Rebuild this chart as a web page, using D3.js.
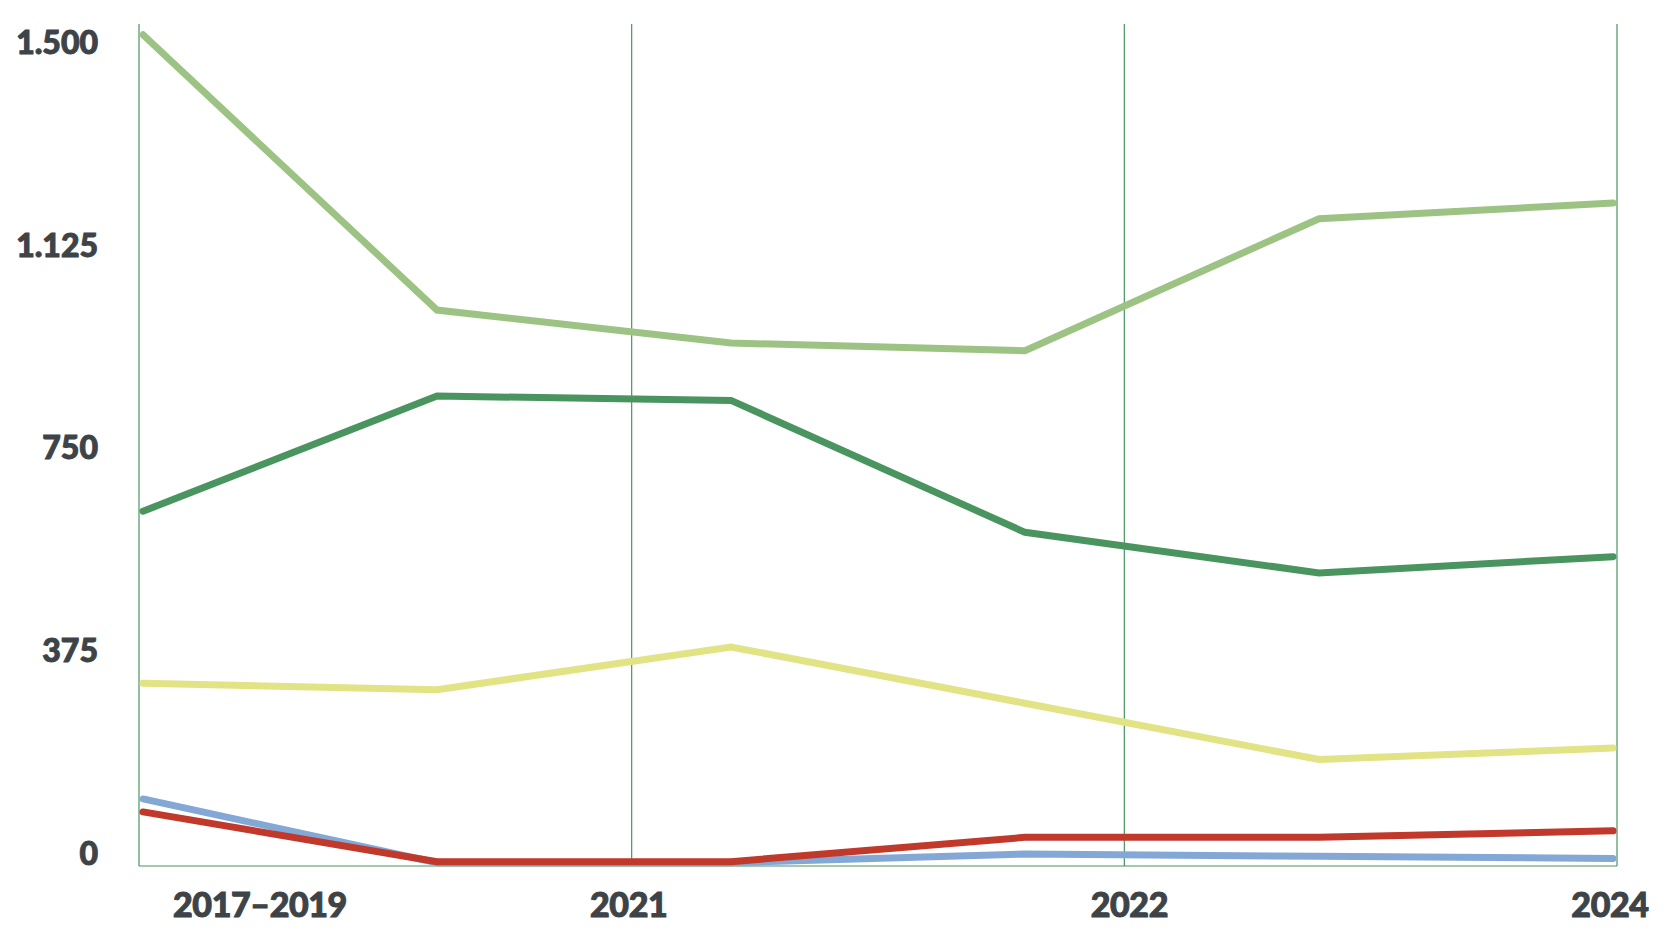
<!DOCTYPE html>
<html>
<head>
<meta charset="utf-8">
<script src="https://cdn.jsdelivr.net/npm/d3@7"></script>
<style>
  html, body { margin: 0; padding: 0; background: #ffffff; }
  svg text { font-family: "Lato", "Open Sans", sans-serif; font-weight: 900; fill: #3d4347; stroke: #3d4347; stroke-width: 1; paint-order: stroke; }
</style>
</head>
<body>
<svg id="chart" width="1666" height="942"></svg>
<script>
// ---- data ----
const periods = ["P1", "P2", "P3", "P4", "P5", "P6"];
const seriesLightGreen = [1537, 1028, 967, 953, 1197, 1226];
const seriesDarkGreen  = [656, 869, 861, 617, 542, 572];
const seriesYellow     = [338, 326, 405, 301, 197, 218];
const seriesBlue       = [124, 6, 6, 22, 18, 14];
const seriesRed        = [100, 8, 8, 53, 53, 65];
const yTickValues = [0, 375, 750, 1125, 1500];
const yTickLabels = ["0", "375", "750", "1.125", "1.500"];
const xTickLabels = ["2017–2019", "2021", "2022", "2024"];

const series = [
  { name: "lightgreen", values: seriesLightGreen, color: "#9dc384" },
  { name: "darkgreen",  values: seriesDarkGreen,  color: "#4a9460" },
  { name: "yellow",     values: seriesYellow,     color: "#e2e385" },
  { name: "blue",       values: seriesBlue,       color: "#84a8d6" },
  { name: "red",        values: seriesRed,        color: "#c0392b" }
];

const svg = d3.select("#chart");
const frameLeft = 139, frameRight = 1617, frameTop = 24, frameBottom = 866;

const x = d3.scaleLinear().domain([0, periods.length - 1]).range([143, 1613]);
const y = d3.scaleLinear().domain([0, 1557]).range([frameBottom, frameTop]);
const gx = d3.scaleLinear().domain([0, xTickLabels.length - 1]).range([frameLeft, frameRight]);

// vertical gridlines
svg.append("g").selectAll("line")
  .data(d3.range(xTickLabels.length))
  .join("line")
  .attr("x1", d => gx(d)).attr("x2", d => gx(d))
  .attr("y1", frameTop).attr("y2", frameBottom)
  .attr("stroke", "#4a9460").attr("stroke-width", 1.2);

// baseline
svg.append("line")
  .attr("x1", frameLeft).attr("x2", frameRight)
  .attr("y1", frameBottom).attr("y2", frameBottom)
  .attr("stroke", "#4a9460").attr("stroke-width", 1.2);

// y labels
svg.append("g").selectAll("text")
  .data(yTickValues)
  .join("text")
  .attr("x", 98)
  .attr("y", d => y(d) - 1)
  .attr("text-anchor", "end")
  .attr("font-size", 32)
  .attr("letter-spacing", 0)
  .text((d, i) => yTickLabels[i]);

// x labels
const xOffsets = [121, -3, 5, -7];
svg.append("g").selectAll("text")
  .data(xTickLabels)
  .join("text")
  .attr("x", (d, i) => gx(i) + xOffsets[i])
  .attr("y", 917)
  .attr("text-anchor", "middle")
  .attr("font-size", 34)
  .attr("letter-spacing", -0.4)
  .text(d => d);

// lines
const line = d3.line().x((d, i) => x(i)).y(d => y(d));
svg.append("g").selectAll("path")
  .data(series)
  .join("path")
  .attr("d", d => line(d.values))
  .attr("fill", "none")
  .attr("stroke", d => d.color)
  .attr("stroke-width", 7)
  .attr("stroke-linecap", "round")
  .attr("stroke-linejoin", "miter");
</script>
</body>
</html>
